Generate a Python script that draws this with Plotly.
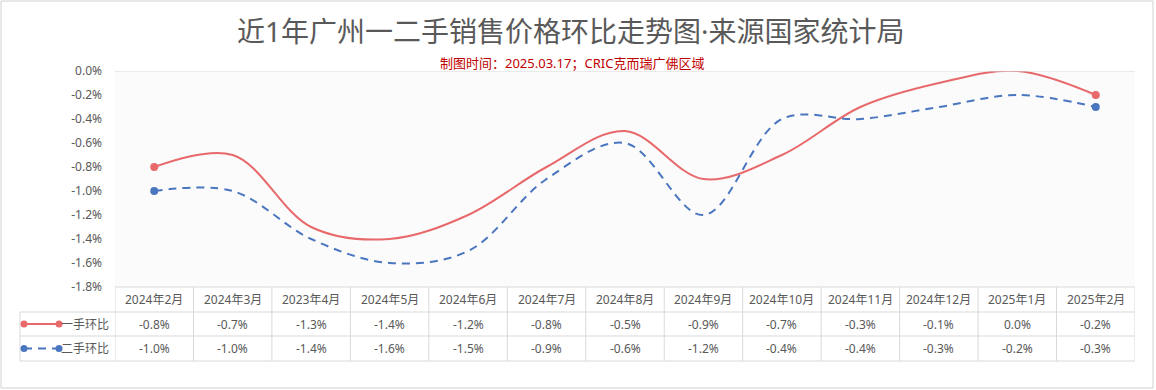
import plotly.graph_objects as go

categories = ["2024年2月", "2024年3月", "2023年4月", "2024年5月", "2024年6月", "2024年7月",
              "2024年8月", "2024年9月", "2024年10月", "2024年11月", "2024年12月", "2025年1月", "2025年2月"]
first_hand = [-0.8, -0.7, -1.3, -1.4, -1.2, -0.8, -0.5, -0.9, -0.7, -0.3, -0.1, 0.0, -0.2]
second_hand = [-1.0, -1.0, -1.4, -1.6, -1.5, -0.9, -0.6, -1.2, -0.4, -0.4, -0.3, -0.2, -0.3]
series_names = ["一手环比", "二手环比"]
y_ticks = [0.0, -0.2, -0.4, -0.6, -0.8, -1.0, -1.2, -1.4, -1.6, -1.8]

RED = "#E8696B"
BLUE = "#4A76BF"
GRID = "#D9D9D9"
TXT = "#595959"
FONT = "Noto Sans, Noto Sans CJK SC"
DASH = "8px,6px"

W, H = 1156, 390
L, R, T, B = 115, 21, 71, 103
PW, PH = W - L - R, H - T - B

def px(xp):  # pixel x -> paper
    return (xp - L) / PW

def py(yp):  # pixel y -> paper
    return (H - B - yp) / PH

n = len(categories)
idx = list(range(n))

fig = go.Figure()
for vals, color, dash, name in [(first_hand, RED, "solid", series_names[0]),
                                (second_hand, BLUE, DASH, series_names[1])]:
    sizes = [8 if i in (0, n - 1) else 0 for i in idx]
    fig.add_trace(go.Scatter(
        x=idx, y=vals, mode="lines+markers", name=name,
        line=dict(color=color, width=2, dash=dash, shape="spline", smoothing=1.0),
        marker=dict(size=sizes, color=color, opacity=1, line=dict(width=0)),
        showlegend=False, cliponaxis=False, hoverinfo="skip"))

shapes = []
annotations = []

def ann(**kw):
    kw.setdefault("showarrow", False)
    kw.setdefault("xanchor", "center")
    kw.setdefault("yanchor", "middle")
    annotations.append(kw)

# table geometry (pixels)
row_y = [287, 312, 336, 361]
shapes.append(dict(type="line", xref="paper", yref="paper", x0=0, x1=1, y0=py(287), y1=py(287),
                   line=dict(color=GRID, width=1)))
for yy in row_y[1:]:
    shapes.append(dict(type="line", xref="paper", yref="paper", x0=px(20), x1=1, y0=py(yy), y1=py(yy),
                       line=dict(color=GRID, width=1)))
for i in range(n + 1):
    xx = i - 0.5
    shapes.append(dict(type="line", xref="x", yref="paper", x0=xx, x1=xx, y0=py(287), y1=py(361),
                       line=dict(color=GRID, width=1)))
shapes.append(dict(type="line", xref="paper", yref="paper", x0=px(20), x1=px(20), y0=py(312), y1=py(361),
                   line=dict(color=GRID, width=1)))
# outer figure border
shapes.append(dict(type="rect", xref="paper", yref="paper", x0=px(1), x1=px(1153), y0=py(1), y1=py(388),
                   line=dict(color="#D0D0D0", width=1), fillcolor="rgba(0,0,0,0)", layer="below"))
# top axis line at 0
shapes.append(dict(type="line", xref="paper", yref="y", x0=0, x1=1, y0=0, y1=0,
                   line=dict(color=GRID, width=1)))

for i, c in enumerate(categories):
    ann(x=i, y=py(299.5), xref="x", yref="paper", text=c, font=dict(size=12, color=TXT, family=FONT))
    ann(x=i, y=py(324), xref="x", yref="paper", text=f"{first_hand[i]:.1f}%",
        font=dict(size=12, color=TXT, family=FONT))
    ann(x=i, y=py(348.5), xref="x", yref="paper", text=f"{second_hand[i]:.1f}%",
        font=dict(size=12, color=TXT, family=FONT))

for (yc, color, dash, name) in [(324, RED, "solid", series_names[0]), (348.5, BLUE, DASH, series_names[1])]:
    shapes.append(dict(type="line", xref="paper", yref="paper", x0=px(24), x1=px(59), y0=py(yc), y1=py(yc),
                       line=dict(color=color, width=2, dash=dash)))
    for cx in (24, 59):
        shapes.append(dict(type="circle", xref="paper", yref="paper",
                           x0=px(cx - 3.5), x1=px(cx + 3.5), y0=py(yc + 3.5), y1=py(yc - 3.5),
                           fillcolor=color, line=dict(color=color, width=0)))
    ann(x=px(111), y=py(yc), xref="paper", yref="paper", text=name, xanchor="right",
        font=dict(size=12, color=TXT, family=FONT))

ann(x=px(571), y=py(31), xref="paper", yref="paper",
    text="近1年广州一二手销售价格环比走势图·来源国家统计局",
    font=dict(size=28, color=TXT, family=FONT))
ann(x=px(572), y=py(63), xref="paper", yref="paper",
    text="制图时间：2025.03.17；CRIC克而瑞广佛区域",
    font=dict(size=13, color="#C00000", family=FONT))

fig.update_layout(
    width=W, height=H,
    margin=dict(l=L, r=R, t=T, b=B, pad=0),
    paper_bgcolor="white", plot_bgcolor="#FBFBFB",
    xaxis=dict(range=[-0.5, n - 0.5], showticklabels=False, showgrid=False, zeroline=False,
               showline=False, ticks="", fixedrange=True),
    yaxis=dict(range=[-1.8, 0], tickvals=y_ticks, ticktext=[f"{v:.1f}%" for v in y_ticks],
               showgrid=False, zeroline=False, showline=False, ticks="", ticklabelstandoff=12,
               tickfont=dict(size=12, color=TXT, family=FONT), fixedrange=True),
    shapes=shapes, annotations=annotations,
)

fig.write_html("out.html", config={"displayModeBar": False},
               post_script="document.body.style.margin='0';document.body.style.padding='0';")
